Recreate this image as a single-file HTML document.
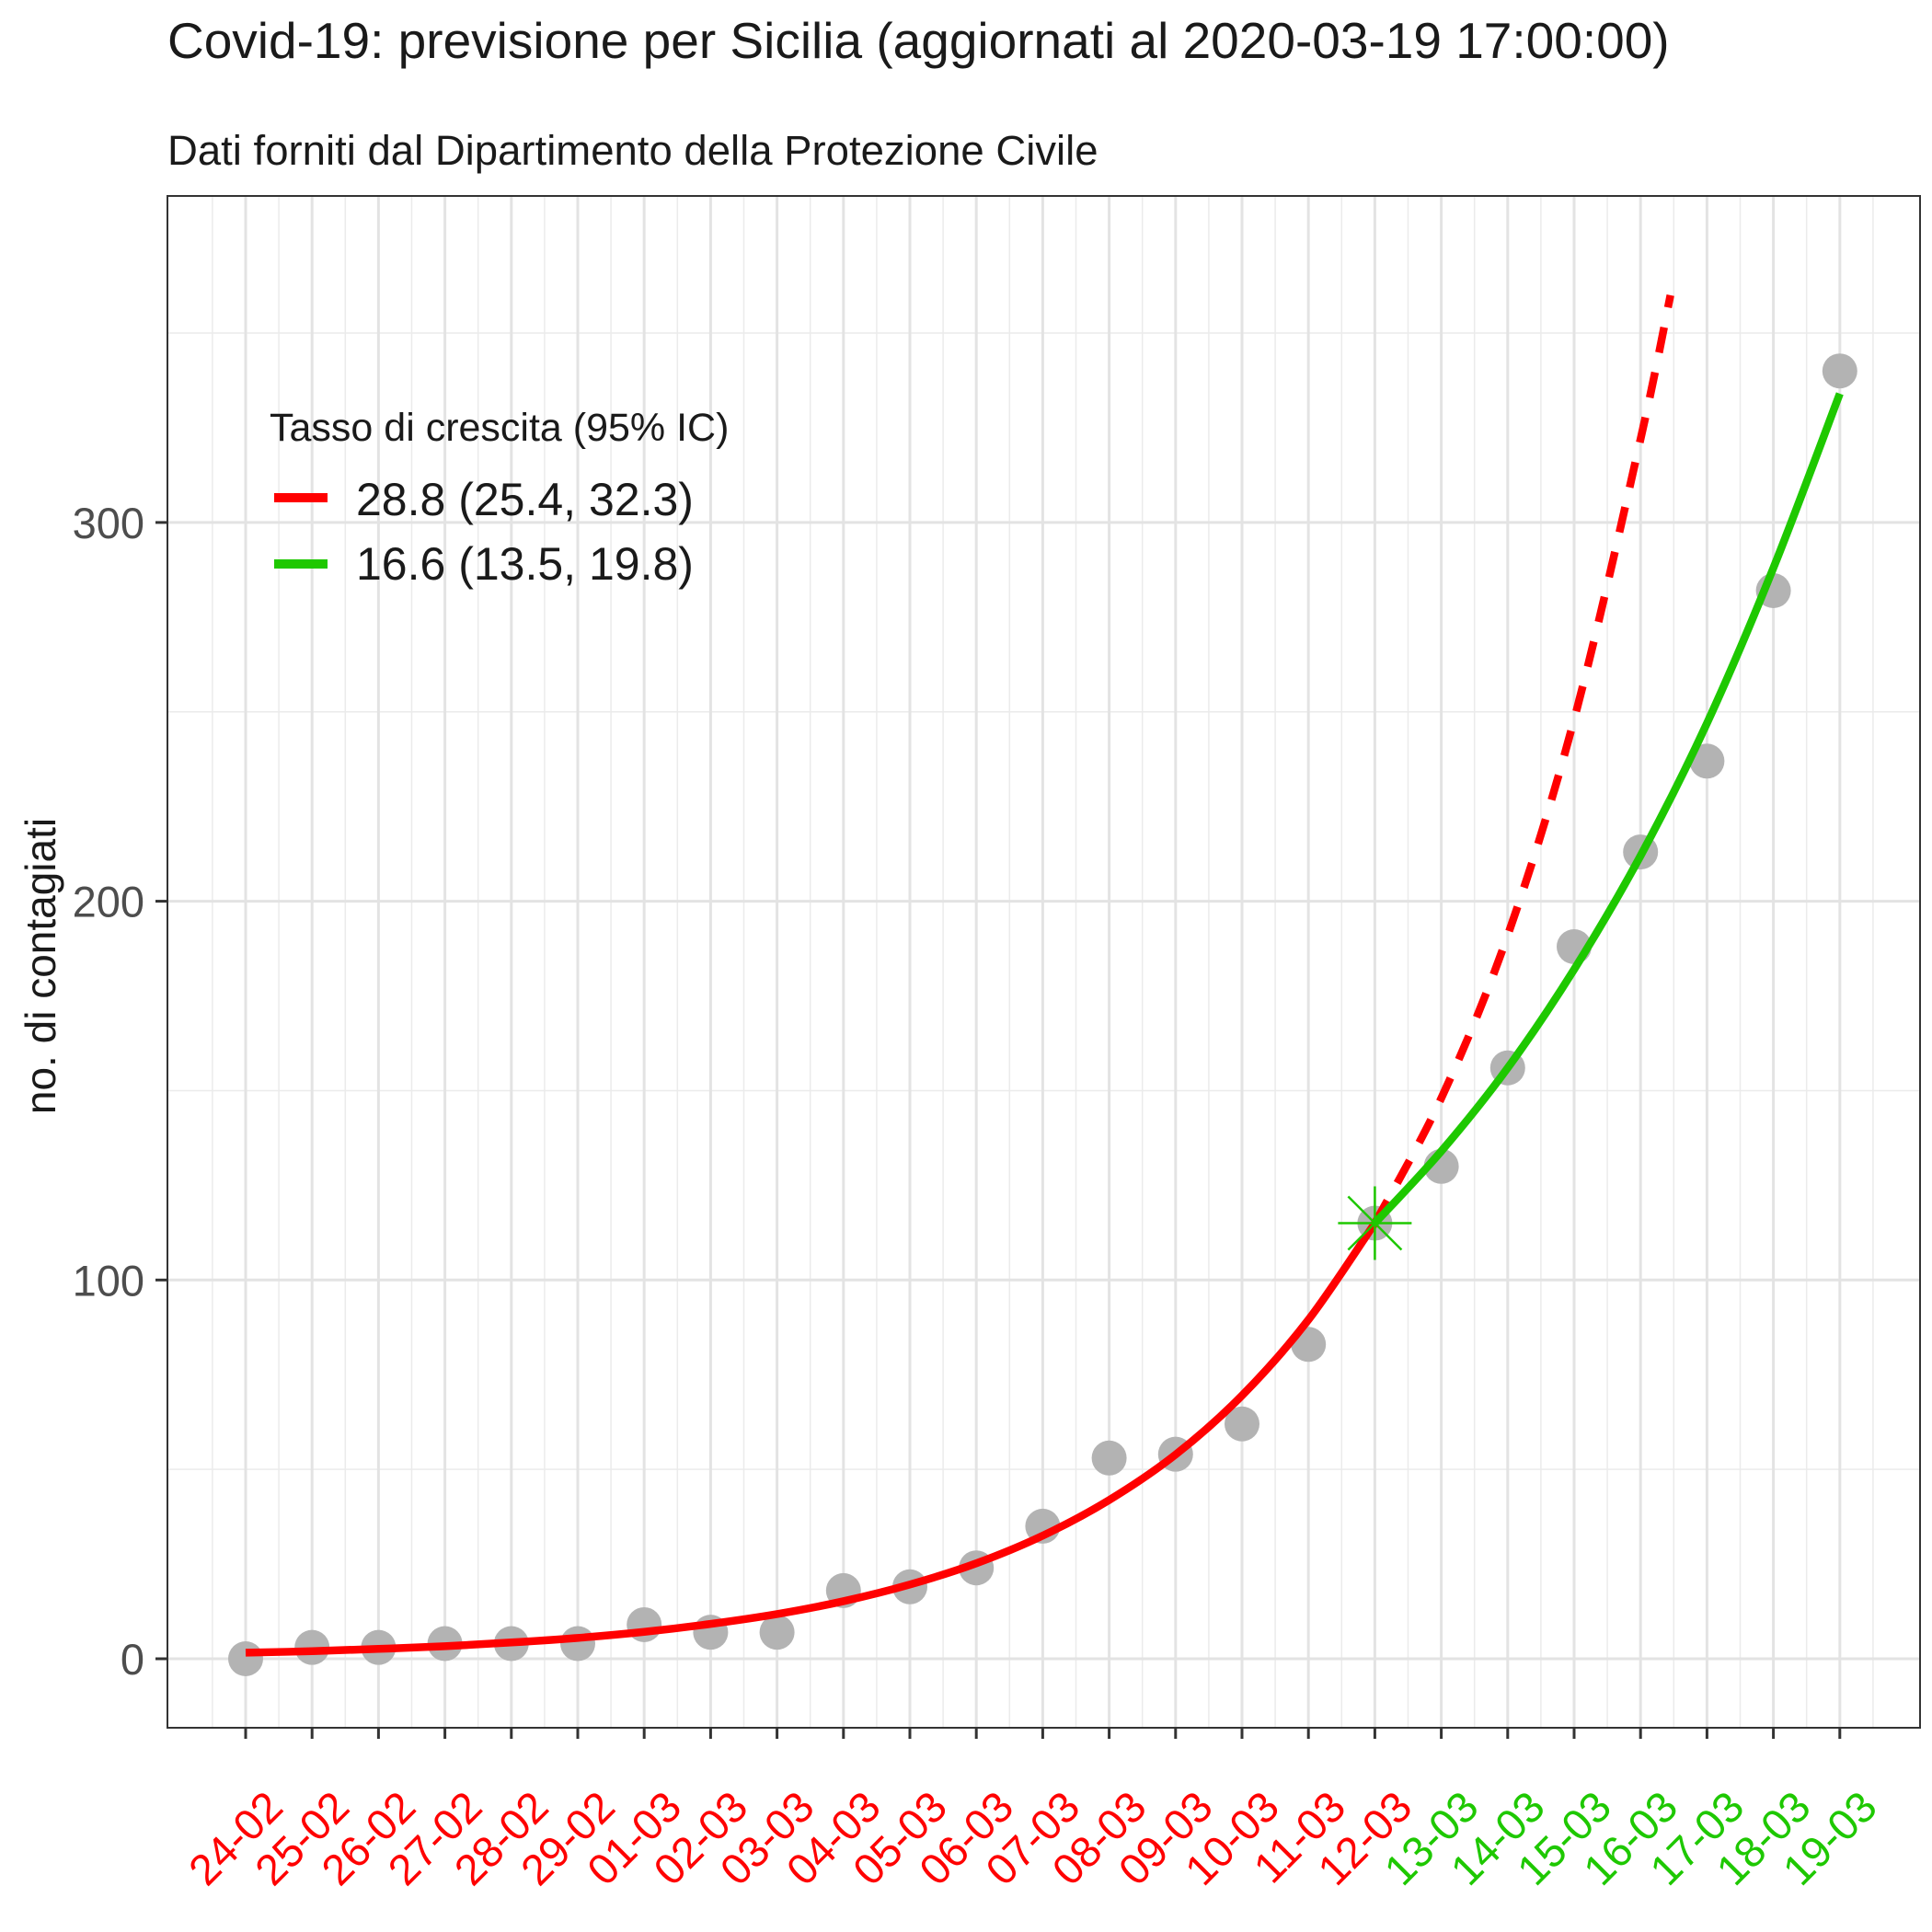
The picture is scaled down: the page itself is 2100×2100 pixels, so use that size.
<!DOCTYPE html>
<html><head><meta charset="utf-8"><style>
html,body{margin:0;padding:0;background:#fff;}
svg{display:block;font-family:"Liberation Sans",Arial,sans-serif;}
</style></head><body>
<svg id="chart" width="2100" height="2100" viewBox="0 0 2100 2100" xmlns="http://www.w3.org/2000/svg">
<text x="182" y="63" font-size="55" fill="#1a1a1a">Covid-19: previsione per Sicilia (aggiornati al 2020-03-19 17:00:00)</text>
<text x="182" y="179" font-size="45.5" fill="#1a1a1a">Dati forniti dal Dipartimento della Protezione Civile</text>
<text transform="translate(60,1050) rotate(-90)" text-anchor="middle" font-size="46" fill="#1a1a1a">no. di contagiati</text>
<rect x="182" y="213" width="1905" height="1665" fill="#fff"/>
<g id="grid"></g>
<g id="marks"></g>
<rect x="182" y="213" width="1905" height="1665" fill="none" stroke="#333" stroke-width="2"/>
<g id="axes"></g>
<g>
<text x="293" y="479" font-size="43" fill="#1a1a1a">Tasso di crescita (95% IC)</text>
<line x1="298" y1="541" x2="356" y2="541" stroke="#ff0000" stroke-width="10"/>
<text x="387" y="560" font-size="50" fill="#1a1a1a">28.8 (25.4, 32.3)</text>
<line x1="298" y1="613" x2="356" y2="613" stroke="#1ec800" stroke-width="10"/>
<text x="387" y="630" font-size="50" fill="#1a1a1a">16.6 (13.5, 19.8)</text>
</g>
</svg>
<script>
const categories = ["24-02","25-02","26-02","27-02","28-02","29-02","01-03","02-03","03-03","04-03","05-03","06-03","07-03","08-03","09-03","10-03","11-03","12-03","13-03","14-03","15-03","16-03","17-03","18-03","19-03"];
const observed = [0,3,3,4,4,4,9,7,7,18,19,24,35,53,54,62,83,115,130,156,188,213,237,282,340];
const redFitDays = [0,1,2,3,4,5,6,7,8,9,10,11,12,13,14,15,16,17];
const redFitValues = [1.6,2.0,2.6,3.3,4.3,5.5,7.1,9.2,11.8,15.2,19.6,25.2,32.5,41.9,53.9,69.5,89.5,115];
const redProjDays = [17,18,19,20,21,21.45];
const redProjValues = [115,148,191,248,322,360];
const greenFitDays = [17,18,19,20,21,22,23,24];
const greenFitValues = [115,134,156,182,212,247,288,334];
const yTicks = [0,100,200,300];
const yMinor = [50,150,250,350];
const splitIndex = 17;

const NS="http://www.w3.org/2000/svg";
const X0=267, DX=72.2, Y0=1803, KY=4.117;
function xs(d){return X0+d*DX;}
function ys(v){return Y0-v*KY;}
function mk(tag,attrs,parent){const e=document.createElementNS(NS,tag);for(const k in attrs)e.setAttribute(k,attrs[k]);parent.appendChild(e);return e;}
function smoothPath(days,vals){
  const p=days.map((d,i)=>[xs(d),ys(vals[i])]);
  let s="M"+p[0][0]+","+p[0][1];
  for(let i=0;i<p.length-1;i++){
    const a=p[i-1]||p[i],b=p[i],c=p[i+1],d=p[i+2]||c;
    const c1=[b[0]+(c[0]-a[0])/6,b[1]+(c[1]-a[1])/6];
    const c2=[c[0]-(d[0]-b[0])/6,c[1]-(d[1]-b[1])/6];
    s+=" C"+c1[0]+","+c1[1]+" "+c2[0]+","+c2[1]+" "+c[0]+","+c[1];
  }
  return s;
}
const grid=document.getElementById('grid');
const marks=document.getElementById('marks');
const axes=document.getElementById('axes');
for(let i=-1;i<categories.length;i++){
  const l=mk('line',{x1:xs(i+0.5),x2:xs(i+0.5),y1:213,y2:1878,stroke:'#ebebeb','stroke-width':1.5},grid);
  
  
}
yMinor.forEach(v=>{
  const l=mk('line',{x1:182,x2:2087,y1:ys(v),y2:ys(v),stroke:'#ebebeb','stroke-width':1.5},grid);
  
  
});
categories.forEach((c,i)=>{
  const l=mk('line',{x1:xs(i),x2:xs(i),y1:213,y2:1878,stroke:'#e3e3e3','stroke-width':3},grid);
  
  
});
yTicks.forEach(v=>{
  const l=mk('line',{x1:182,x2:2087,y1:ys(v),y2:ys(v),stroke:'#e3e3e3','stroke-width':3},grid);
  
  
  const t=mk('line',{x1:169,x2:182,y1:ys(v),y2:ys(v),stroke:'#333','stroke-width':3},axes);
  
  
  const tx=mk('text',{x:157,y:ys(v)+17,'text-anchor':'end','font-size':47,fill:'#4d4d4d'},axes);
  tx.textContent=v;
  
  
});
categories.forEach((c,i)=>{
  const t=mk('line',{x1:xs(i),x2:xs(i),y1:1878,y2:1890,stroke:'#333','stroke-width':3},axes);
  
  
  const x=xs(i)+43, y=1967;
  const tx=mk('text',{x:x,y:y,'text-anchor':'end','font-size':47,fill:i<=splitIndex?'#ff0000':'#1ec800',transform:'rotate(-45 '+x+' '+y+')'},axes);
  tx.textContent=c;
  
  
});
observed.forEach((v,i)=>{
  const p=mk('circle',{cx:xs(i),cy:ys(v),r:19,fill:'#b3b3b3'},marks);
  
  
});
const rf=mk('path',{d:smoothPath(redFitDays,redFitValues),fill:'none',stroke:'#ff0000','stroke-width':8.5},marks);


const rp=mk('path',{d:smoothPath(redProjDays,redProjValues),fill:'none',stroke:'#ff0000','stroke-width':8.5,'stroke-dasharray':'28 22'},marks);


const gf=mk('path',{d:smoothPath(greenFitDays,greenFitValues),fill:'none',stroke:'#1ec800','stroke-width':8.5},marks);


const sx=xs(splitIndex), sy=ys(observed[splitIndex]);
const star=mk('g',{stroke:'#1ec800','stroke-width':2.5},marks);


[[40,0],[0,40],[29,29],[29,-29]].forEach(([a,b])=>mk('line',{x1:sx-a,y1:sy-b,x2:sx+a,y2:sy+b},star));
</script>
</body></html>
